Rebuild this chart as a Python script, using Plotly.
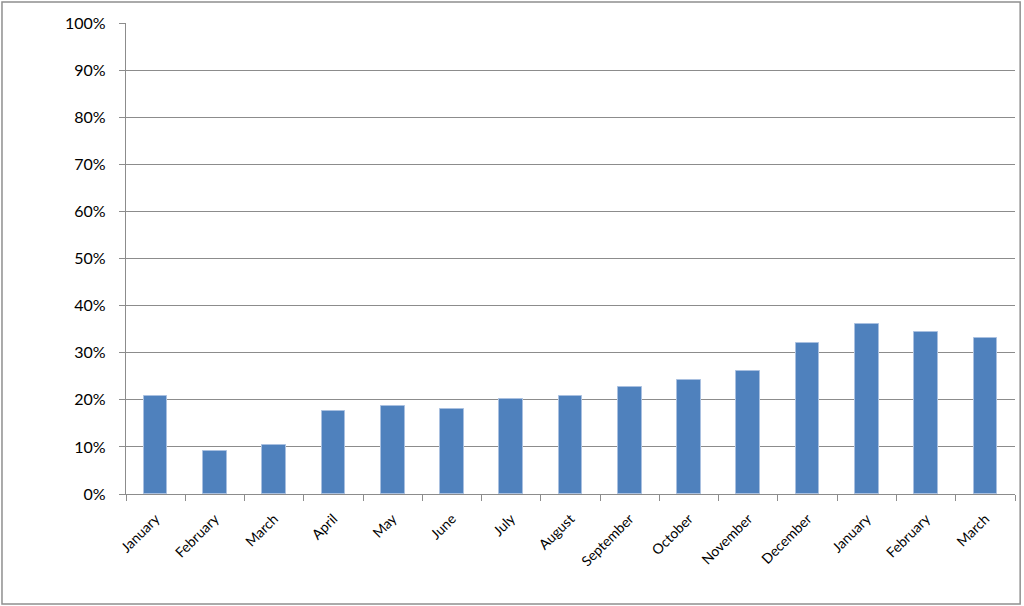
import plotly.graph_objects as go

# month labels repeat (Jan-Mar appear twice), so bars go on numeric positions
months = ["January", "February", "March", "April", "May", "June", "July",
          "August", "September", "October", "November", "December",
          "January", "February", "March"]
share = [0.208, 0.091, 0.105, 0.176, 0.186, 0.181, 0.202,
         0.209, 0.227, 0.243, 0.261, 0.321, 0.361, 0.344, 0.331]
y_ticks = [i / 10 for i in range(11)]

pos = list(range(len(months)))
grid = "#8c8c8c"

fig = go.Figure()
fig.add_trace(go.Bar(x=pos, y=share, width=0.4,
                     marker=dict(color="#4f81bd",
                                 line=dict(color="#a9c0e0", width=1)),
                     hoverinfo="y"))

fig.update_layout(
    width=1024, height=606,
    margin=dict(l=126, r=9, t=23, b=112, autoexpand=False),
    paper_bgcolor="white", plot_bgcolor="white",
    showlegend=False,
    font=dict(family="Lato", color="#000000"),
    bargap=0,
    shapes=[dict(type="rect", xref="paper", yref="paper",
                 x0=-0.1395, x1=1.0058, y0=-0.2335, y1=1.0445,
                 line=dict(color="#8f8f8f", width=1.5),
                 fillcolor="rgba(0,0,0,0)", layer="below")],
)
fig.update_xaxes(
    range=[-0.5, len(months) - 0.5],
    tickmode="array", tickvals=pos, ticktext=months,
    tickangle=-45, tickfont=dict(size=14),
    ticks="", showgrid=False, automargin=False,
    ticklabelstandoff=10,
    showline=True, linecolor=grid, linewidth=1.3,
    minor=dict(tickmode="array",
               tickvals=[p - 0.5 for p in pos] + [len(months) - 0.5],
               ticks="outside", ticklen=6, tickcolor=grid, tickwidth=1.3,
               showgrid=False),
    fixedrange=True,
)
fig.update_yaxes(
    range=[0, 1],
    tickmode="array", tickvals=y_ticks,
    tickformat=".0%", tickfont=dict(size=16),
    ticks="outside", ticklen=6, tickcolor=grid, tickwidth=1.3,
    ticklabelstandoff=10, automargin=False,
    showgrid=True, gridcolor=grid, gridwidth=1.3,
    showline=True, linecolor=grid, linewidth=1.3,
    zeroline=False,
    fixedrange=True,
)

fig.write_html("out.html", config={"displayModeBar": False},
               post_script="document.body.style.margin = '0';")
